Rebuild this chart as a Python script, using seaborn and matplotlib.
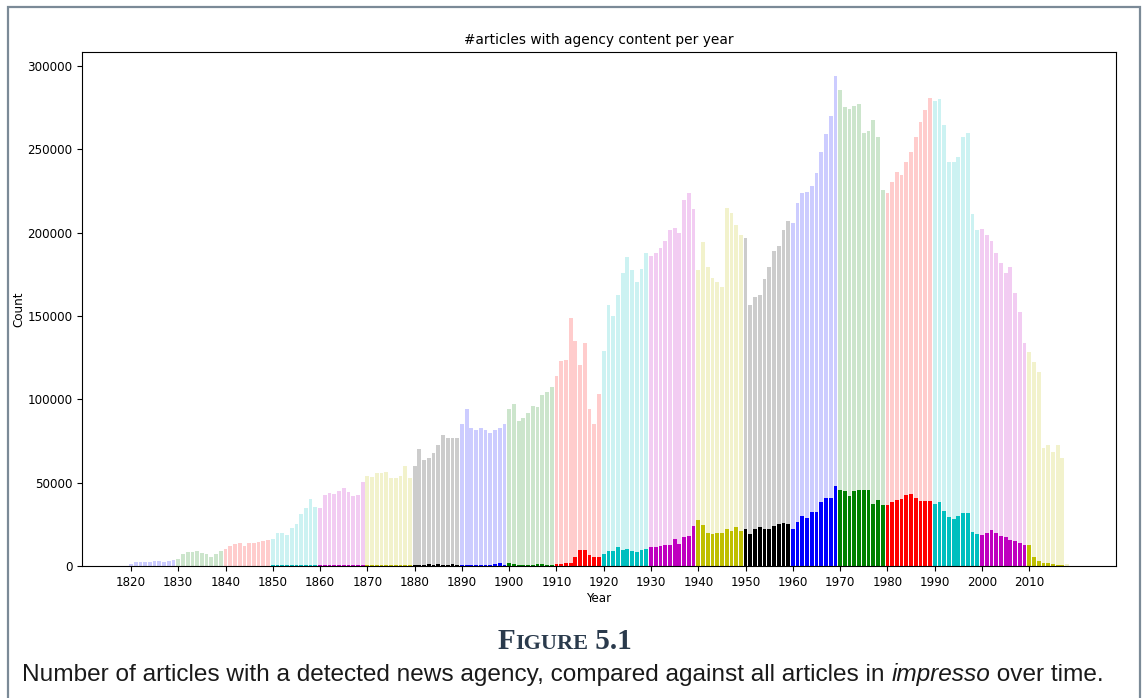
import numpy as np
import pandas as pd
import seaborn as sns
import matplotlib
matplotlib.use("Agg")
import matplotlib.pyplot as plt
from matplotlib.patches import Rectangle

# yearly counts
years = list(range(1820, 2019))

total_articles = [
    1000, 2500, 2500, 2500, 2500, 2800, 2800, 2500, 3000, 3600,
    4200, 7000, 8200, 8200, 9200, 7600, 7000, 5600, 7000, 9000,
    10200, 12200, 13000, 13600, 12200, 14000, 14000, 14200, 15200, 15600,
    16000, 19600, 20000, 18600, 22600, 25200, 31000, 35000, 40000, 35600,
    34600, 42600, 43600, 43400, 45000, 47000, 44200, 42000, 42600, 50200,
    54000, 53600, 56000, 56000, 56600, 53000, 53000, 54000, 60000, 53000,
    60000, 70000, 63400, 64600, 68000, 72400, 78800, 76600, 76600, 76600,
    85000, 94200, 82800, 81800, 82800, 81800, 80000, 81600, 82800, 85000,
    94000, 97200, 87200, 89000, 91600, 96200, 95600, 102600, 104200, 107600,
    114000, 123000, 123600, 148600, 135000, 120400, 133600, 94200, 85000, 103200,
    129200, 156600, 150200, 162600, 176000, 185200, 177600, 170600, 178000, 188000,
    186000, 187600, 190600, 195000, 201600, 202600, 199600, 219600, 224000, 214000,
    177600, 194200, 179600, 172600, 170600, 167600, 214600, 212000, 204600, 198600,
    196600, 156600, 161200, 162600, 172200, 179200, 189200, 192200, 201600, 207200,
    205600, 217600, 224000, 224400, 228000, 235600, 248200, 259200, 269600, 293600,
    285200, 275000, 274000, 275600, 277000, 259600, 261000, 267200, 257200, 225600,
    223600, 230200, 236200, 234600, 242200, 248600, 257600, 266000, 273600, 280600,
    278600, 280200, 264600, 242600, 242600, 245600, 257600, 259600, 211200, 201600,
    202200, 198600, 195000, 187600, 182000, 175600, 179200, 163600, 152200, 133600,
    128600, 122600, 116600, 71000, 72600, 68600, 72600, 65000, 1500,
]

agency_articles = [
    0, 0, 0, 0, 0, 0, 0, 0, 0, 0,
    0, 0, 0, 0, 0, 0, 0, 0, 0, 0,
    150, 150, 150, 150, 150, 150, 150, 150, 150, 200,
    400, 400, 400, 400, 400, 400, 400, 400, 400, 400,
    700, 700, 700, 700, 700, 700, 700, 700, 700, 700,
    400, 400, 400, 400, 400, 400, 400, 400, 400, 400,
    600, 800, 900, 1000, 900, 1000, 800, 900, 1000, 800,
    500, 600, 700, 600, 600, 500, 500, 1200, 1600, 800,
    1600, 1200, 900, 900, 900, 900, 1000, 1400, 900, 900,
    1000, 1000, 1600, 1600, 5200, 9600, 9600, 6600, 5600, 5600,
    7000, 9200, 9200, 11600, 9600, 10400, 9200, 8600, 9600, 10200,
    11200, 11200, 12000, 12400, 12400, 16200, 13000, 17600, 18000, 24000,
    27600, 24600, 19600, 19400, 19600, 19600, 22200, 20800, 23600, 21200,
    22200, 19200, 22200, 23600, 22200, 22200, 24200, 25200, 25800, 25200,
    22200, 26200, 30200, 28800, 32200, 32200, 38600, 40600, 40600, 47800,
    45400, 44800, 41800, 44800, 45400, 45400, 45400, 37000, 39400, 36400,
    36400, 38400, 39400, 40400, 42400, 43200, 40800, 38800, 39200, 39200,
    37000, 38600, 33000, 29400, 28400, 30000, 31800, 32000, 20400, 19400,
    18800, 19800, 21400, 20000, 18000, 17400, 15800, 14800, 14000, 12800,
    12800, 5400, 3000, 1800, 1800, 1000, 800, 800, 0,
]

decade_colours = ["b", "g", "r", "c", "m", "y", "k"]
xtick_years = list(range(1820, 2020, 10))

df = pd.DataFrame({"year": years, "total": total_articles, "agency": agency_articles})
df["decade"] = (df["year"] // 10 * 10).astype(str)
decades = sorted(df["decade"].unique())
palette = {d: decade_colours[i % len(decade_colours)] for i, d in enumerate(decades)}

fig = plt.figure(figsize=(11.46, 6.98), dpi=100)
ax = fig.add_axes([0.0716, 0.1891, 0.9022, 0.7364])

# all articles (faded) and articles with agency content (solid)
sns.barplot(data=df, x="year", y="total", hue="decade", palette=palette,
            native_scale=True, dodge=False, alpha=0.2, saturation=1,
            errorbar=None, legend=False, width=0.8, ax=ax)
sns.barplot(data=df, x="year", y="agency", hue="decade", palette=palette,
            native_scale=True, dodge=False, saturation=1,
            errorbar=None, legend=False, width=0.8, ax=ax)

ax.set_xticks(xtick_years)
ax.set_xticklabels([str(y) for y in xtick_years])
ax.tick_params(labelsize=8.6)
ax.set_xlabel("Year", fontsize=8.6, labelpad=2)
ax.set_ylabel("Count", fontsize=8.6, labelpad=1.5)
ax.set_title("#articles with agency content per year", fontsize=9.9)

# page frame
fig.patches.append(Rectangle((8 / 1146, -0.05), 1132 / 1146, 1.05 - 7 / 698,
                             transform=fig.transFigure, fill=False,
                             edgecolor="#7b8a97", linewidth=1.6))

# caption, laid out run by run
renderer = fig.canvas.get_renderer()


def put_runs(runs, y, centre=0.5):
    objs = []
    for txt, kw in runs:
        objs.append(fig.text(0, y, txt, va="baseline", ha="left", **kw))
    widths = [o.get_window_extent(renderer).width for o in objs]
    total = sum(widths)
    x = centre * fig.bbox.width - total / 2
    for o, w in zip(objs, widths):
        o.set_x(x / fig.bbox.width)
        x += w


head = dict(family="Liberation Serif", color="#2a3a4c", fontweight="bold")
put_runs([("F", dict(fontsize=21, **head)),
          ("IGURE", dict(fontsize=16, **head)),
          (" 5.1", dict(fontsize=21, **head))], y=(698 - 649) / 698, centre=565 / 1146)

body = dict(family="Liberation Sans", color="#1a1a1a", fontsize=17.6)
put_runs([("Number of articles with a detected news agency, compared against all articles in ", body),
          ("impresso", dict(body, style="italic")),
          (" over time.", body)], y=(698 - 681) / 698, centre=563 / 1146)

fig.savefig("out.png", dpi=100)
